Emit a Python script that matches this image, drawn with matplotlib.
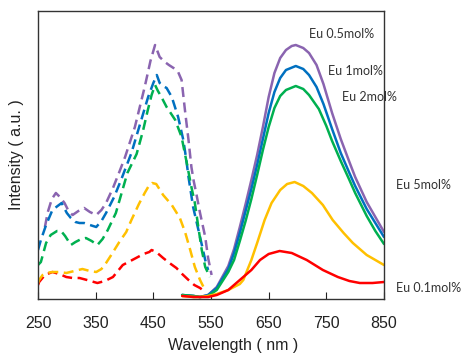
import matplotlib
matplotlib.use("Agg")
import matplotlib.pyplot as plt

plt.rcParams['font.family'] = ['Liberation Sans', 'DejaVu Sans']

# ---- emission (solid) ----
em_purple_wl = [500, 520, 531, 545, 560, 580, 590, 600, 610, 620, 630, 640, 650, 660, 670, 680, 690, 697,
                710, 720, 733, 745, 760, 775, 790, 800, 820, 835, 850]
em_purple = [4, 3, 2, 4, 12, 33, 50, 72, 95, 119, 144, 172, 202, 226, 241, 249, 253, 254,
             251, 246, 234, 215, 186, 160, 137, 122, 97, 82, 67]
em_blue_wl = [500, 520, 531, 545, 560, 580, 590, 600, 610, 620, 630, 640, 650, 660, 670, 680, 697,
              710, 720, 733, 745, 760, 775, 790, 800, 820, 835, 850]
em_blue = [4, 3, 2, 4, 11, 30, 46, 66, 88, 110, 134, 160, 186, 207, 221, 229, 233,
           230, 224, 212, 195, 170, 146, 126, 113, 90, 76, 62]
em_green_wl = [500, 520, 531, 545, 560, 580, 590, 600, 610, 620, 630, 640, 650, 660, 670, 680, 697,
               710, 720, 737, 750, 760, 775, 790, 800, 820, 835, 850]
em_green = [4, 3, 2, 3, 9, 27, 39, 58, 78, 100, 124, 149, 172, 191, 203, 209, 213,
            210, 204, 190, 173, 158, 138, 119, 106, 83, 68, 55]
em_yellow_wl = [500, 520, 531, 545, 560, 580, 600, 606, 620, 630, 643, 655, 670, 682, 695, 710, 725,
                744, 761, 780, 796, 820, 850]
em_yellow = [3, 2, 2, 3, 5, 9, 15, 19, 39, 56, 79, 96, 109, 115, 117, 113, 106,
             94, 79, 66, 56, 44, 34]
em_red_wl = [500, 520, 531, 545, 560, 580, 600, 620, 635, 650, 669, 690, 716, 744, 770, 790, 808, 830, 850]
em_red = [3, 2, 2, 2, 4, 9, 19, 29, 39, 45, 48, 46, 39, 29, 22, 18, 16, 16, 17]

# ---- excitation (dashed) ----
ex_purple_wl = [262, 267, 274, 281, 288, 296, 303, 310, 320, 330, 340, 351, 360, 368, 380, 391, 401,
                418, 435, 445, 453, 457, 461, 470, 477, 485, 493, 499, 505, 511, 516, 520, 525,
                531, 540, 545, 551]
ex_purple = [72, 87, 100, 106, 102, 96, 88, 84, 88, 91, 87, 84, 89, 96, 111, 127, 142,
             172, 212, 238, 254, 248, 242, 237, 234, 231, 227, 219, 188, 159, 132, 118, 104,
             86, 62, 41, 24]
ex_blue_wl = [250, 255, 264, 275, 284, 291, 300, 307, 315, 322, 330, 340, 351, 360, 368, 382, 394,
              412, 427, 441, 450, 456, 461, 467, 473, 482, 493, 502, 507, 511, 519, 531, 540, 545]
ex_blue = [49, 59, 74, 89, 93, 96, 86, 81, 77, 76, 76, 74, 72, 78, 86, 102, 119,
           146, 175, 202, 216, 224, 216, 213, 211, 202, 182, 159, 140, 122, 92, 62, 39, 29]
ex_green_wl = [250, 255, 264, 272, 283, 290, 297, 307, 315, 325, 333, 343, 353, 362, 371, 385, 405,
               421, 432, 440, 447, 453, 458, 464, 473, 480, 488, 499, 508, 516, 522, 528, 534,
               540, 548]
ex_green = [34, 37, 56, 64, 68, 68, 63, 54, 57, 60, 61, 58, 54, 60, 69, 86, 126,
            145, 168, 188, 204, 214, 208, 202, 192, 186, 179, 162, 136, 112, 96, 72, 49,
            32, 22]
ex_yellow_wl = [250, 252, 258, 265, 275, 287, 299, 313, 327, 340, 351, 360, 368, 377, 391, 403, 412,
                425, 435, 442, 448, 455, 467, 482, 496, 505, 514, 522, 531, 537]
ex_yellow = [16, 19, 24, 26, 27, 27, 26, 28, 30, 28, 27, 30, 36, 44, 57, 67, 79,
             95, 106, 113, 116, 115, 104, 94, 81, 67, 49, 32, 19, 12]
ex_red_wl = [250, 252, 262, 275, 287, 299, 310, 322, 335, 353, 366, 380, 397, 420, 433, 443, 447,
             455, 467, 478, 490, 500, 511, 521, 531, 540]
ex_red = [14, 17, 24, 27, 25, 22, 21, 21, 19, 16, 18, 22, 34, 41, 45, 47, 49,
          47, 41, 36, 31, 25, 19, 14, 11, 7]

labels = ["Eu 0.5mol%", "Eu 1mol%", "Eu 2mol%", "Eu 5mol%", "Eu 0.1mol%"]
xticks = [250, 350, 450, 550, 650, 750, 850]

c_purple = "#8A64B0"
c_blue = "#0070C0"
c_green = "#00B050"
c_yellow = "#FFC000"
c_red = "#FF0000"

fig = plt.figure(figsize=(4.61, 3.57), dpi=100)
ax = fig.add_axes([38/461, 1-299/357, (384-38)/461, (299-11)/357])

dash = (0, (4, 2.2))
lw = 1.8
for wl, v, c in [(ex_red_wl, ex_red, c_red), (ex_yellow_wl, ex_yellow, c_yellow),
                 (ex_purple_wl, ex_purple, c_purple), (ex_blue_wl, ex_blue, c_blue),
                 (ex_green_wl, ex_green, c_green)]:
    ax.plot(wl, v, color=c, lw=lw, linestyle=dash)

for wl, v, c in [(em_purple_wl, em_purple, c_purple), (em_blue_wl, em_blue, c_blue),
                 (em_green_wl, em_green, c_green), (em_yellow_wl, em_yellow, c_yellow),
                 (em_red_wl, em_red, c_red)]:
    ax.plot(wl, v, color=c, lw=lw, solid_capstyle='round', solid_joinstyle='round')

ax.set_xlim(250, 850)
ax.set_ylim(0, 288)
ax.set_xticks(xticks)
ax.set_xticklabels([str(t) for t in xticks], fontsize=11.5)
ax.set_yticks([])
ax.tick_params(axis='x', direction='in', length=5, width=0.8, pad=12, colors='#222222')
for s in ax.spines.values():
    s.set_linewidth(1.0)
    s.set_color('#333333')

ax.set_xlabel("Wavelength ( nm )", fontsize=11.5, color='#222222')
ax.xaxis.set_label_coords(0.565, -0.135)
ax.set_ylabel("Intensity ( a.u. )", fontsize=11.5, color='#222222')
ax.yaxis.set_label_coords(-0.04, 0.5)

tfont = dict(fontsize=9, family=['Lato', 'DejaVu Sans'], color='#333333', va='center', ha='left')
ax.text(720, 265, labels[0], clip_on=False, **tfont)
ax.text(753, 228, labels[1], clip_on=False, **tfont)
ax.text(777, 202, labels[2], clip_on=False, **tfont)
ax.text(871, 114, labels[3], clip_on=False, **tfont)
ax.text(871, 11, labels[4], clip_on=False, **tfont)

fig.savefig("out.png", dpi=100)
